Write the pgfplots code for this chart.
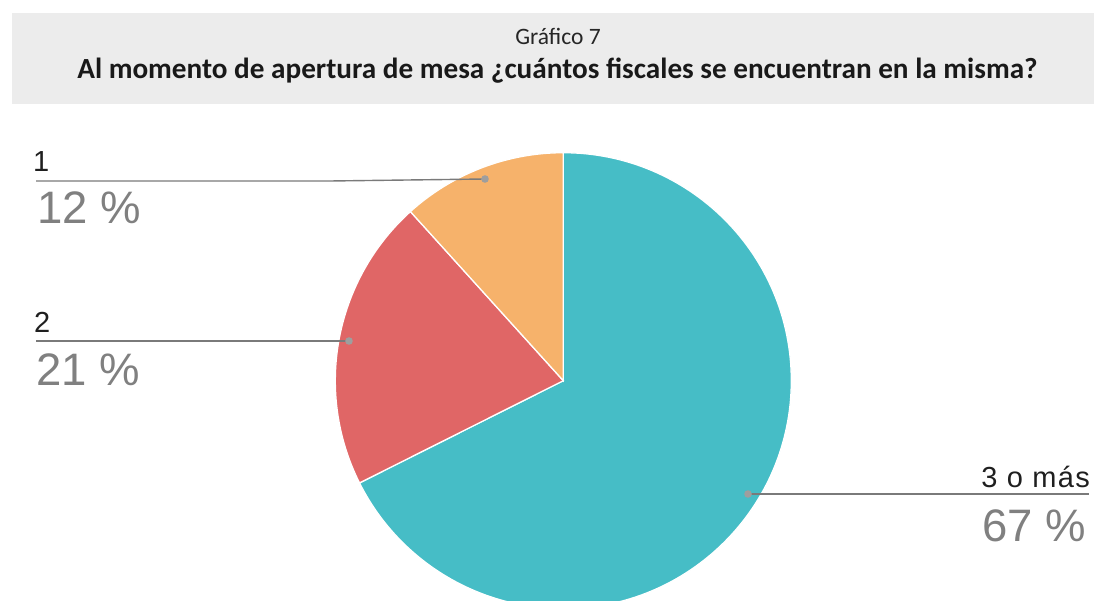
\documentclass[border=0pt]{standalone}
\usepackage{pgfplots}
\pgfplotsset{compat=1.18}
\usepackage{pgfplotstable}
\usepackage{fontspec}
\setmainfont{Liberation Sans}
\newfontfamily\titlefont{Carlito}
\definecolor{cTeal}{HTML}{46BDC6}
\definecolor{cRed}{HTML}{E06666}
\definecolor{cOrange}{HTML}{F6B26B}
\definecolor{cBox}{HTML}{ECECEC}
\definecolor{cLine}{HTML}{7A7A7A}
\definecolor{cDot}{HTML}{9E9E9E}
\definecolor{cPct}{HTML}{808080}
\definecolor{cLab}{HTML}{1F1F1F}

% share of each answer (per cent)
\pgfplotstableread{
idx value
0 67.6
1 20.7
2 11.7
}\piedata

\begin{document}
\begin{tikzpicture}[x=1pt,y=1pt]
\useasboundingbox (0,0) rectangle (1094,601);
\pgfplotstablegetelem{0}{value}\of\piedata \pgfmathsetmacro{\vA}{\pgfplotsretval}
\pgfplotstablegetelem{1}{value}\of\piedata \pgfmathsetmacro{\vB}{\pgfplotsretval}
\pgfplotstablegetelem{2}{value}\of\piedata \pgfmathsetmacro{\vC}{\pgfplotsretval}
\pgfmathsetmacro{\aA}{90}
\pgfmathsetmacro{\aB}{\aA-3.6*\vA}
\pgfmathsetmacro{\aC}{\aB-3.6*\vB}
\pgfmathsetmacro{\aD}{\aC-3.6*\vC}
% title box
\fill[cBox] (12,601-12.7) rectangle (1094,601-103.7);
\node[anchor=base, font=\titlefont\fontsize{23.5}{28}\selectfont, text=black!85] at (558,601-45) {Gráfico 7};
\node[anchor=base, font=\titlefont\bfseries\fontsize{29.2}{35}\selectfont, text=black!90] at (557.5,601-79) {Al momento de apertura de mesa ¿cuántos fiscales se encuentran en la misma?};
\begin{axis}[
  at={(0,0)}, anchor=south west,
  scale only axis, width=1094pt, height=601pt,
  xmin=0, xmax=1094, ymin=0, ymax=601, y dir=reverse,
  hide axis, clip=true,
]
\fill[cTeal, draw=white, line width=1.3pt] (axis cs:563.3,380.7) -- ++(\aA:228pt) arc[start angle=\aA, end angle=\aB, radius=228pt] -- cycle;
\fill[cRed, draw=white, line width=1.3pt] (axis cs:563.3,380.7) -- ++(\aB:228pt) arc[start angle=\aB, end angle=\aC, radius=228pt] -- cycle;
\fill[cOrange, draw=white, line width=1.3pt] (axis cs:563.3,380.7) -- ++(\aC:228pt) arc[start angle=\aC, end angle=\aD, radius=228pt] -- cycle;
% leader lines
\draw[cLine, line width=1.4pt] (axis cs:36,181) -- (axis cs:330,181) -- (axis cs:485,179);
\fill[cDot] (axis cs:485,179) circle[radius=3.8pt];
\draw[cLine, line width=1.4pt] (axis cs:36,341) -- (axis cs:349,341);
\fill[cDot] (axis cs:349,341) circle[radius=3.8pt];
\draw[cLine, line width=1.4pt] (axis cs:748,494) -- (axis cs:1089,494);
\fill[cDot] (axis cs:748,494) circle[radius=3.8pt];
% labels
\node[anchor=base west, inner sep=0pt, text=cLab, font=\fontsize{29}{34}\selectfont] at (axis cs:33,172) {1};
\node[anchor=base west, inner sep=0pt, text=cPct, font=\fontsize{45.5}{52}\selectfont] at (axis cs:37,224) {12 \%};
\node[anchor=base west, inner sep=0pt, text=cLab, font=\fontsize{29}{34}\selectfont] at (axis cs:34,333) {2};
\node[anchor=base west, inner sep=0pt, text=cPct, font=\fontsize{45.5}{52}\selectfont] at (axis cs:36,385) {21 \%};
\node[anchor=base east, inner sep=0pt, text=cLab, font=\fontsize{29}{34}\selectfont\addfontfeature{LetterSpace=4.5}] at (axis cs:1090,487) {3 o más};
\node[anchor=base east, inner sep=0pt, text=cPct, font=\fontsize{45.5}{52}\selectfont] at (axis cs:1086,541) {67 \%};
\end{axis}
\end{tikzpicture}
\end{document}
